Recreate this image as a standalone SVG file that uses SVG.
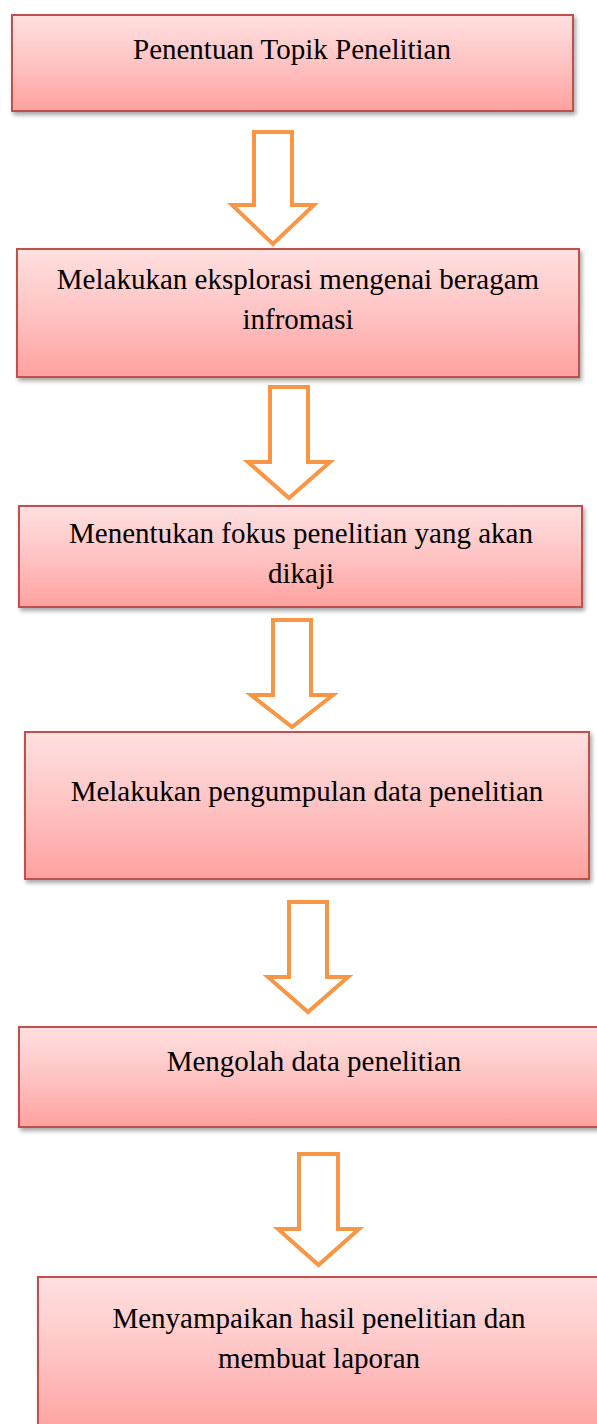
<svg xmlns="http://www.w3.org/2000/svg" width="597" height="1424" viewBox="0 0 597 1424">
<defs>
<linearGradient id="g" x1="0" y1="0" x2="0" y2="1">
<stop offset="0" stop-color="#FFE0E0"/>
<stop offset="0.5" stop-color="#FFC3C3"/>
<stop offset="1" stop-color="#FFA19F"/>
</linearGradient>
<filter id="sh" x="-5%" y="-10%" width="115%" height="130%">
<feDropShadow dx="2" dy="3" stdDeviation="2" flood-color="#000" flood-opacity="0.35"/>
</filter>
<style>
.box{fill:url(#g);stroke:#C0504D;stroke-width:2;filter:url(#sh)}
.lbl{font-family:"Liberation Serif","Times New Roman",serif;font-size:29px;fill:#000;text-anchor:middle}
.arr{fill:#fff;stroke:#F79646;stroke-width:4;stroke-linejoin:miter}
</style>
</defs>
<rect width="597" height="1424" fill="#fff"/>
<g id="connectors">
<path class="arr" d="M254,132 H292 V205 H314 L273,244 L232,205 H254 Z"/>
<path class="arr" d="M270,387 H308 V462 H330 L289,498 L248,462 H270 Z"/>
<path class="arr" d="M273,620 H311 V695 H333 L292,727 L251,695 H273 Z"/>
<path class="arr" d="M289,902 H327 V977 H348 L308,1012 L268,977 H289 Z"/>
<path class="arr" d="M299,1154 H338 V1229 H359 L318.5,1265 L278,1229 H299 Z"/>
</g>
<g id="n1">
<rect class="box" x="12" y="15" width="561" height="96"/>
<text class="lbl" x="292" y="59">Penentuan Topik Penelitian</text>
</g>
<g id="n2">
<rect class="box" x="17" y="249" width="562" height="128"/>
<text class="lbl" x="298" y="289">Melakukan eksplorasi mengenai beragam</text>
<text class="lbl" x="298" y="329">infromasi</text>
</g>
<g id="n3">
<rect class="box" x="19" y="506" width="563" height="101"/>
<text class="lbl" x="301" y="543">Menentukan fokus penelitian yang akan</text>
<text class="lbl" x="301" y="583">dikaji</text>
</g>
<g id="n4">
<rect class="box" x="25" y="732" width="564" height="147"/>
<text class="lbl" x="307" y="801">Melakukan pengumpulan data penelitian</text>
</g>
<g id="n5">
<rect class="box" x="19" y="1027" width="590" height="100"/>
<text class="lbl" x="314" y="1071">Mengolah data penelitian</text>
</g>
<g id="n6">
<rect class="box" x="38" y="1277" width="572" height="160"/>
<text class="lbl" x="319" y="1328">Menyampaikan hasil penelitian dan</text>
<text class="lbl" x="319" y="1368">membuat laporan</text>
</g>
</svg>
